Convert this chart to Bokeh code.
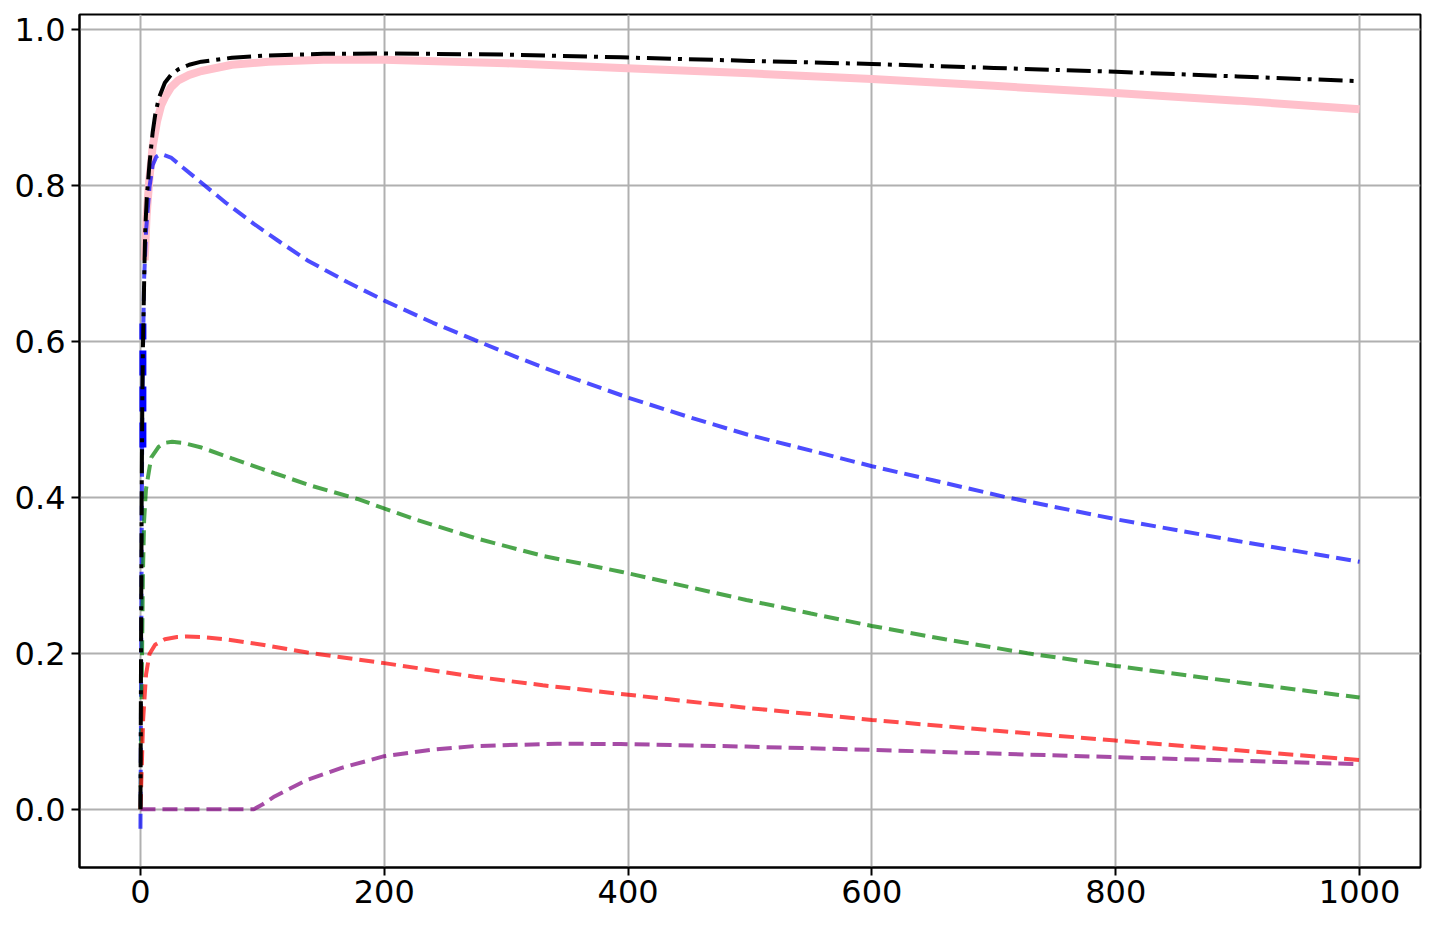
from bokeh.plotting import figure
from bokeh.models import Range1d, FixedTicker, NumeralTickFormatter
from bokeh.embed import file_html
from bokeh.resources import INLINE

# ---- data ----
black_x = [0, 0.3, 0.6, 1.0, 1.5, 2.0, 2.8, 3.3, 3.9, 5.2, 7.4, 10, 12, 15, 20, 25, 31, 40, 50, 75, 105,
           150, 200, 300, 394, 500, 600, 700, 800, 900, 1000]
black_y = [0, 0.12, 0.25, 0.40, 0.52, 0.59, 0.657, 0.70, 0.742, 0.785, 0.828, 0.868, 0.89, 0.912, 0.932,
           0.942, 0.949, 0.955, 0.959, 0.964, 0.967, 0.969, 0.9696, 0.968, 0.9645, 0.960, 0.956, 0.951,
           0.946, 0.940, 0.934]

pink_x = [3.5, 5, 7.4, 10, 13.7, 17, 20, 25, 31, 40, 50, 75, 105, 150, 200, 300, 394, 500, 600, 700,
          800, 900, 1000]
pink_y = [0.704, 0.76, 0.81, 0.85, 0.883, 0.903, 0.913, 0.926, 0.935, 0.942, 0.947, 0.955, 0.959, 0.9615,
          0.9615, 0.957, 0.951, 0.944, 0.9367, 0.928, 0.9187, 0.909, 0.8978]

blue_x = [0, 0.5, 1, 1.5, 2, 3, 4.6, 7.4, 10, 13, 17, 25, 35, 49, 70, 93, 115, 137, 170, 200, 240, 274,
          310, 342, 400, 450, 497, 550, 600, 650, 708, 800, 900, 1000]
blue_y = [-0.025, 0.15, 0.35, 0.50, 0.58, 0.68, 0.742, 0.798, 0.826, 0.837, 0.8405, 0.836, 0.823, 0.805,
          0.778, 0.751, 0.727, 0.704, 0.676, 0.6525, 0.624, 0.602, 0.579, 0.560, 0.528, 0.503, 0.481,
          0.460, 0.440, 0.422, 0.401, 0.372, 0.344, 0.3175]

green_x = [0, 1, 2, 3, 4.5, 8.8, 15, 20, 26, 35, 50, 75, 110, 140, 178, 225, 274, 330, 394, 450, 497,
           550, 600, 660, 727.6, 800, 900, 1000]
green_y = [0, 0.15, 0.30, 0.37, 0.41, 0.451, 0.465, 0.470, 0.4714, 0.470, 0.464, 0.450, 0.431, 0.415,
           0.398, 0.372, 0.348, 0.325, 0.3047, 0.285, 0.2684, 0.251, 0.235, 0.218, 0.2, 0.1838, 0.163,
           0.1432]

red_x = [0, 1, 2.2, 4.6, 7.4, 12, 20, 30, 38, 50, 70, 100, 137, 200, 274, 330, 394, 497, 600, 700, 800,
         900, 1000]
red_y = [0, 0.05, 0.115, 0.173, 0.199, 0.211, 0.218, 0.221, 0.2215, 0.221, 0.218, 0.211, 0.201, 0.1874,
         0.170, 0.159, 0.1479, 0.130, 0.1145, 0.101, 0.088, 0.0755, 0.0632]

purple_x = [0, 93, 100, 110, 137, 165, 200, 240, 274, 342, 394, 497, 600, 800, 1000]
purple_y = [0, 0, 0.006, 0.0164, 0.0378, 0.053, 0.068, 0.0765, 0.081, 0.084, 0.0836, 0.0803, 0.0761,
            0.0667, 0.0577]

seg_x = [2, 2]
seg_y = [0.464, 0.623]

x_ticks = [0, 200, 400, 600, 800, 1000]
y_ticks = [0.0, 0.2, 0.4, 0.6, 0.8, 1.0]

# ---- figure ----
p = figure(frame_width=1341, frame_height=853, output_backend="svg", toolbar_location=None,
           x_range=Range1d(-50, 1050), y_range=Range1d(-0.0748, 1.0195),
           min_border_left=79, min_border_top=14, min_border_right=10, min_border_bottom=51)
p.background_fill_color = "white"
p.border_fill_color = "white"
p.outline_line_color = "black"
p.outline_line_width = 2
p.outline_line_alpha = 1

for ax in (p.xaxis[0], p.yaxis[0]):
    ax.axis_line_color = "black"
    ax.axis_line_width = 2
    ax.major_tick_line_color = "black"
    ax.major_tick_line_width = 2
    ax.major_tick_out = 8
    ax.major_tick_in = 0
    ax.minor_tick_out = 0
    ax.minor_tick_in = 0
    ax.major_label_text_font = "DejaVu Sans"
    ax.major_label_text_font_size = "32px"
    ax.major_label_text_color = "black"

p.xaxis[0].ticker = FixedTicker(ticks=x_ticks)
p.yaxis[0].ticker = FixedTicker(ticks=y_ticks)
p.yaxis[0].formatter = NumeralTickFormatter(format="0.0")
p.xaxis[0].major_label_standoff = 4
p.yaxis[0].major_label_standoff = 6

p.xgrid.grid_line_color = "#b0b0b0"
p.ygrid.grid_line_color = "#b0b0b0"
p.xgrid.grid_line_width = 2
p.ygrid.grid_line_width = 2

# ---- lines ----
p.line(pink_x, pink_y, line_color="#ffc0cb", line_width=8)
p.line(seg_x, seg_y, line_color="blue", line_width=7, line_dash="25 11")
p.line(blue_x, blue_y, line_color="blue", line_alpha=0.7, line_width=4, line_dash="15 7")
p.line(green_x, green_y, line_color="green", line_alpha=0.7, line_width=4, line_dash="15 7")
p.line(red_x, red_y, line_color="red", line_alpha=0.7, line_width=4, line_dash="15 7")
p.line(purple_x, purple_y, line_color="purple", line_alpha=0.7, line_width=4, line_dash="15 7")
p.line(black_x, black_y, line_color="black", line_width=4, line_dash="24 7 4 7")

open("out.html", "w").write(file_html(p, INLINE))
